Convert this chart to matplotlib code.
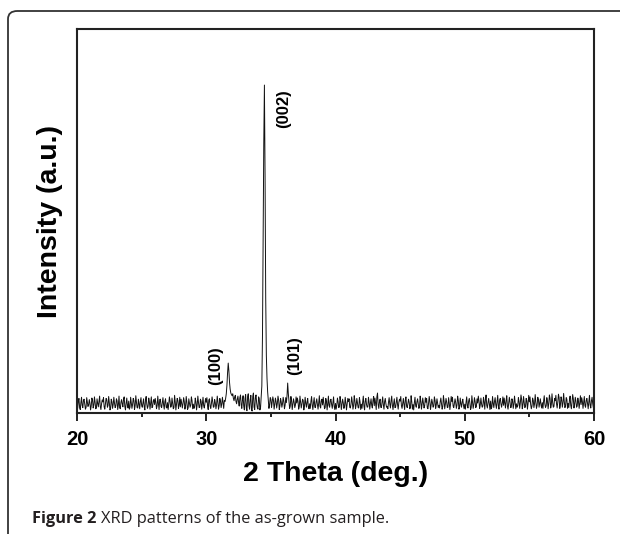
import numpy as np
import matplotlib
matplotlib.use("Agg")
from matplotlib import pyplot as plt
from matplotlib.patches import FancyBboxPatch
from matplotlib.ticker import MultipleLocator

# 2theta from 20 to 60 deg, step 0.1 (read at whole tenths)
two_theta = np.round(np.arange(20.0, 60.05, 0.1), 1)
intensity = [
    22, 30, 15, 27, 19, 33, 24, 14, 29, 21,
    26, 18, 34, 20, 28, 13, 25, 31, 17, 24,
    29, 16, 23, 35, 19, 27, 12, 30, 22, 26,
    18, 32, 21, 14, 28, 24, 36, 17, 25, 20,
    31, 15, 26, 22, 33, 19, 28, 13, 24, 30,
    20, 27, 16, 34, 23, 18, 29, 25, 14, 32,
    22, 28, 19, 24, 35, 17, 26, 21, 30, 15,
    27, 23, 31, 18, 25, 14, 29, 22, 33, 20,
    16, 26, 24, 30, 19, 28, 13, 25, 21, 32,
    23, 17, 29, 22, 27, 15, 31, 24, 19, 26,
    28, 20, 34, 18, 25, 30, 16, 27, 22, 29,
    19, 31, 24, 26, 33, 38, 72, 130, 80, 52,
    45, 38, 42, 30, 36, 28, 40, 22, 34, 18,
    38, 12, 42, 20, 35, 8, 44, 15, 40, 26,
    10, 38, 14, 70, 450, 854, 300, 90, 35, 22,
    36, 28, 33, 22, 30, 25, 34, 19, 29, 24,
    31, 20, 27, 78, 30, 18, 32, 24, 28, 21,
    26, 30, 17, 28, 23, 33, 19, 25, 29, 16,
    24, 31, 20, 27, 15, 29, 22, 26, 18, 32,
    21, 27, 14, 30, 24, 19, 33, 22, 28, 17,
    25, 20, 29, 16, 31, 23, 27, 18, 26, 22,
    30, 15, 24, 28, 19, 32, 21, 26, 13, 29,
    23, 27, 18, 31, 22, 16, 28, 25, 20, 33,
    19, 26, 42, 22, 29, 15, 27, 21, 30, 24,
    17, 28, 23, 32, 20, 25, 14, 29, 22, 27,
    31, 19, 26, 22, 34, 18, 24, 28, 15, 30,
    22, 27, 20, 29, 24, 16, 31, 23, 26, 19,
    28, 14, 25, 30, 21, 27, 18, 33, 22, 26,
    20, 29, 24, 17, 31, 23, 28, 15, 26, 22,
    30, 18, 25, 27, 21, 33, 16, 24, 29, 20,
    23, 28, 19, 31, 25, 14, 27, 22, 30, 17,
    26, 32, 21, 24, 18, 29, 35, 20, 27, 23,
    31, 16, 25, 30, 22, 28, 19, 34, 24, 26,
    20, 27, 33, 18, 25, 29, 15, 31, 23, 28,
    24, 19, 30, 26, 36, 21, 27, 17, 32, 25,
    29, 22, 18, 33, 24, 28, 20, 35, 26, 21,
    27, 31, 23, 19, 30, 25, 38, 22, 28, 17,
    32, 24, 29, 40, 21, 34, 26, 30, 19, 36,
    25, 33, 20, 28, 37, 23, 31, 18, 29, 26,
    22, 30, 27, 19, 33, 24, 28, 21, 31, 25,
    23,
]

# readings in between (20.05, 20.15, ... 59.95)
two_theta_mid = np.round(np.arange(20.05, 60.0, 0.1), 2)
intensity_mid = [
    12, 38, 9, 41, 14, 36, 10, 40, 17, 35,
    8, 39, 13, 42, 11, 37, 16, 44, 9, 34,
    40, 10, 38, 15, 43, 8, 36, 12, 41, 14,
    37, 9, 44, 11, 35, 16, 42, 8, 39, 13,
    10, 41, 12, 38, 9, 45, 14, 36, 11, 40,
    15, 37, 8, 43, 12, 39, 10, 42, 16, 35,
    38, 11, 44, 9, 36, 14, 40, 10, 37, 13,
    9, 42, 15, 39, 11, 46, 8, 38, 12, 41,
    36, 13, 40, 10, 43, 9, 37, 15, 42, 11,
    12, 39, 8, 44, 14, 36, 10, 41, 13, 38,
    40, 9, 37, 12, 42, 15, 35, 11, 44, 10,
    38, 14, 41, 12, 30, 50, 105, 110, 62, 48,
    50, 32, 46, 24, 44, 18, 47, 12, 45, 8,
    48, 6, 50, 10, 46, 5, 52, 9, 47, 14,
    42, 8, 40, 200, 700, 620, 150, 55, 12, 40,
    14, 42, 10, 39, 13, 44, 9, 38, 15, 41,
    11, 40, 45, 50, 12, 43, 9, 37, 14, 42,
    39, 10, 44, 13, 36, 8, 41, 15, 38, 11,
    12, 43, 9, 40, 14, 37, 10, 45, 13, 36,
    41, 11, 38, 8, 44, 15, 36, 12, 42, 9,
    10, 39, 14, 43, 9, 36, 12, 41, 8, 38,
    37, 13, 42, 10, 45, 11, 38, 14, 40, 9,
    12, 44, 8, 38, 15, 41, 10, 37, 13, 43,
    39, 9, 52, 12, 36, 14, 42, 10, 38, 15,
    11, 40, 13, 44, 9, 37, 15, 41, 10, 36,
    43, 12, 38, 9, 42, 14, 36, 11, 45, 10,
    8, 41, 15, 37, 12, 44, 10, 39, 13, 40,
    38, 11, 43, 9, 36, 15, 42, 12, 37, 14,
    13, 39, 10, 45, 11, 38, 14, 40, 9, 43,
    41, 14, 37, 12, 44, 10, 39, 15, 36, 11,
    10, 42, 13, 38, 9, 45, 12, 40, 14, 37,
    44, 12, 39, 15, 41, 10, 47, 13, 38, 9,
    11, 43, 14, 40, 12, 46, 10, 38, 15, 42,
    39, 13, 45, 10, 41, 14, 37, 12, 44, 11,
    15, 40, 12, 47, 11, 43, 14, 38, 10, 46,
    42, 11, 39, 14, 48, 12, 41, 15, 37, 13,
    12, 45, 14, 40, 11, 47, 13, 50, 15, 38,
    46, 13, 49, 12, 42, 15, 51, 14, 40, 12,
    14, 44, 11, 48, 13, 41, 15, 39, 12, 45,
    40, 12, 43, 15, 38, 11, 46, 13, 41, 14,
]

peak_labels = ["(100)", "(002)", "(101)"]
peak_pos = [30.75, 35.95, 36.8]
peak_text_y = [0.073, 0.742, 0.099]

x_all = np.concatenate([two_theta, two_theta_mid])
y_all = np.concatenate([intensity, intensity_mid])
order = np.argsort(x_all)

W, H = 620, 534
fig = plt.figure(figsize=(W / 100, H / 100), dpi=100)

# rounded outer frame (open to the right and bottom)
frame = FancyBboxPatch((8 / W, -0.05), 1.2, 523 / H + 0.05,
                       boxstyle="round,pad=0,rounding_size=0.015",
                       transform=fig.transFigure, fill=False,
                       edgecolor="#333333", linewidth=1.3, clip_on=False)
fig.patches.append(frame)

ax = fig.add_axes([77 / W, (H - 413) / H, (594 - 77) / W, (413 - 29) / H])
ax.plot(x_all[order], y_all[order], color="#111111", linewidth=0.7)
ax.set_xlim(20, 60)
ax.set_ylim(0, 1000)
ax.set_yticks([])

ax.xaxis.set_major_locator(MultipleLocator(10))
ax.xaxis.set_minor_locator(MultipleLocator(5))
ax.tick_params(axis="x", which="major", direction="out", length=6, width=1.4,
               pad=6, labelsize=14.5, color="#222222")
ax.tick_params(axis="x", which="minor", direction="out", length=3, width=1.4,
               color="#222222")
for lab in ax.get_xticklabels():
    lab.set_fontweight("bold")
    lab.set_fontfamily("Liberation Sans")

for s in ax.spines.values():
    s.set_linewidth(1.5)
    s.set_color("#222222")

ax.set_xlabel("2 Theta (deg.)", fontsize=20.5, fontweight="bold",
              family="Liberation Sans", labelpad=9)
ax.set_ylabel("Intensity (a.u.)", fontsize=20.5, fontweight="bold",
              family="Liberation Sans", labelpad=10)

for lbl, px, py in zip(peak_labels, peak_pos, peak_text_y):
    ax.text(px, py, lbl, transform=ax.get_xaxis_transform(), rotation=90,
            ha="center", va="bottom", fontsize=12, fontweight="bold",
            family="Liberation Sans")

# caption: bold "Figure 2" followed by regular text
cap_y = (H - 523) / H
t1 = fig.text(32 / W, cap_y, "Figure 2", fontsize=11.8, fontweight="bold",
              family="Open Sans", color="#231f20", va="baseline")
fig.canvas.draw()
bb = t1.get_window_extent()
fig.text((bb.x1 + 5) / W, cap_y, "XRD patterns of the as-grown sample.",
         fontsize=11.8, family="Open Sans", color="#231f20", va="baseline")

fig.savefig("out.png", dpi=100)
